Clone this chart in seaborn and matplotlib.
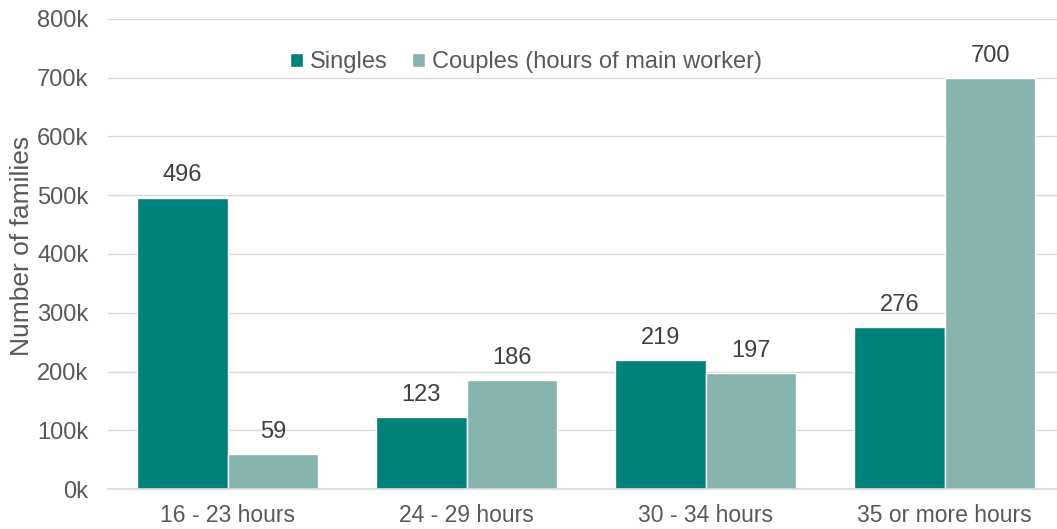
import pandas as pd
import matplotlib.pyplot as plt
import seaborn as sns

# Data (thousands of families)
categories = ['16 - 23 hours', '24 - 29 hours', '30 - 34 hours', '35 or more hours']
singles = [496, 123, 219, 276]
couples = [59, 186, 197, 700]
series_names = ['Singles', 'Couples (hours of main worker)']
colors = ['#00817A', '#88B4AF']

df = pd.DataFrame({
    'hours': categories * 2,
    'group': [series_names[0]] * 4 + [series_names[1]] * 4,
    'families': [v * 1000 for v in singles + couples],
})

sns.set_style('white')
plt.rcParams['font.family'] = ['Liberation Sans', 'DejaVu Sans']
text_col = '#595959'

fig = plt.figure(figsize=(10.57, 5.29), dpi=100)
ax = fig.add_axes([108 / 1057, 40 / 529, 1 - 108 / 1057, 470 / 529])

sns.barplot(data=df, x='hours', y='families', hue='group', palette=colors,
            width=0.76, gap=0, saturation=1, ax=ax, legend=True)

for cont, vals in zip(ax.containers, [singles, couples]):
    ax.bar_label(cont, labels=[str(v) for v in vals], padding=8,
                 fontsize=17, color='#404040')

ax.set_ylim(0, 800000)
ax.set_xlim(-0.5, 3.47)
ax.set_yticks(range(0, 800001, 100000))
ax.set_yticklabels([f'{v // 1000}k' for v in range(0, 800001, 100000)])
ax.yaxis.grid(True, color='#D9D9D9', linewidth=1)
ax.set_axisbelow(True)
for s in ['left', 'right', 'top']:
    ax.spines[s].set_visible(False)
ax.spines['bottom'].set_color('#D9D9D9')
ax.spines['bottom'].set_linewidth(1.2)
ax.tick_params(axis='both', length=0, colors=text_col)
ax.tick_params(axis='y', pad=14, labelsize=17)
ax.tick_params(axis='x', pad=11, labelsize=16.5)
ax.set_xlabel('')
ax.set_ylabel('')

fig.text(22 / 1057, 1 - 246 / 529, 'Number of families', rotation=90,
         ha='center', va='center', fontsize=19, color=text_col)

leg = ax.legend(loc='center', bbox_to_anchor=(526 / 1057, 1 - 62 / 529),
                bbox_transform=fig.transFigure, ncol=2, frameon=False,
                fontsize=17, handlelength=0.55, handleheight=0.55,
                handletextpad=0.3, columnspacing=1.0, borderpad=0)
for t in leg.get_texts():
    t.set_color(text_col)

fig.savefig('out.png', dpi=100)
